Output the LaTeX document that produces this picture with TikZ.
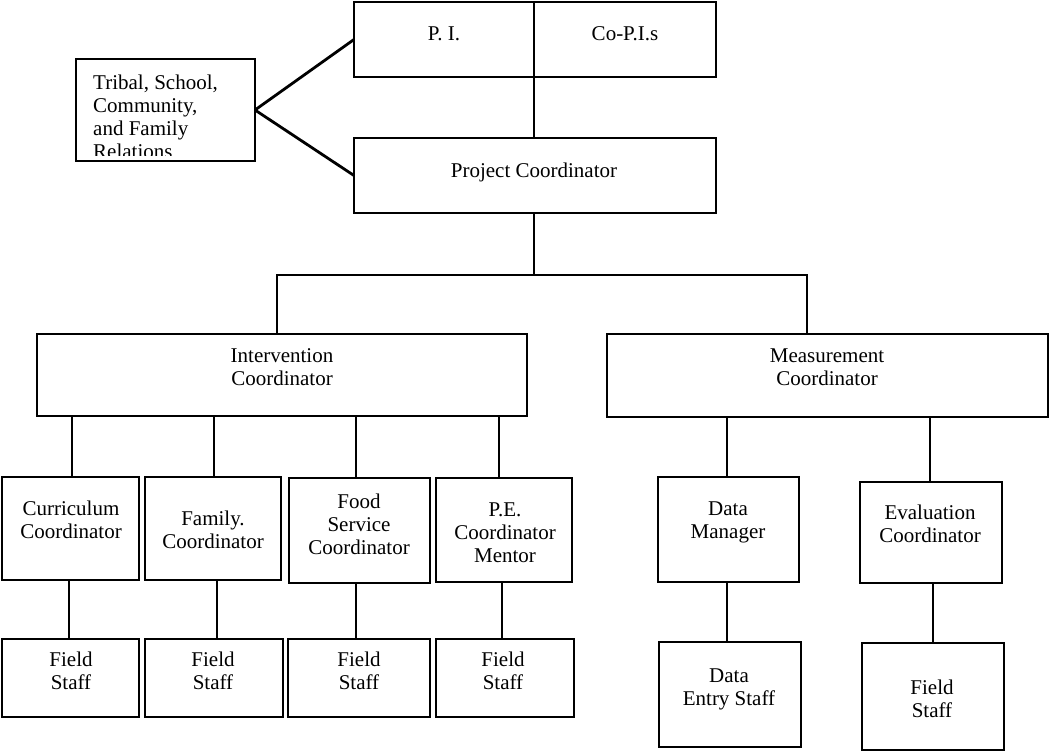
\documentclass[tikz,border=0pt]{standalone}
\usepackage{fontspec}
\setmainfont{Liberation Serif}
\newcommand\orgbox[5]{\node[box, minimum width={(#4-#2)*1pt}, minimum height={(#5-#3)*1pt}] (#1) at ({(#2+#4)/2},{(#3+#5)/2}) {};}
\newcommand\vlink[3]{\path ([xshift=#1]#2.north) coordinate (tmp#2); \draw[con] (tmp#2) -- (tmp#2 |- #3.south);}
\begin{document}
\begin{tikzpicture}[x=1pt,y=-1pt,
  box/.style={draw, line width=2pt, inner sep=0pt, outer sep=0pt},
  txt/.style={align=center, inner sep=0pt, font=\fontsize{21}{23}\selectfont},
  con/.style={line width=1.6pt},
  thick con/.style={line width=2.8pt}]
\useasboundingbox (0,0) rectangle (1050,752);
\fill[white] (0,0) rectangle (1050,752);

% boxes
\orgbox{tr}{76}{59}{255}{161}
\orgbox{pi}{354}{2}{534}{77}
\orgbox{cp}{534}{2}{716}{77}
\orgbox{pc}{354}{138}{716}{213}
\orgbox{ic}{37}{334}{527}{416}
\orgbox{mc}{607}{334}{1048}{417}
\orgbox{cc}{2}{477}{139}{580}
\orgbox{fc}{145}{477}{281}{580}
\orgbox{fsc}{289}{478}{430}{583}
\orgbox{pe}{436}{478}{572}{582}
\orgbox{fa}{2}{639}{139}{717}
\orgbox{fb}{145}{639}{283}{717}
\orgbox{fcc}{288}{639}{430}{717}
\orgbox{fd}{436}{639}{574}{717}
\orgbox{dm}{658}{477}{799}{582}
\orgbox{ev}{860}{482}{1002}{583}
\orgbox{de}{659}{642}{801}{747}
\orgbox{fe}{862}{643}{1004}{750}

% texts
\begin{scope}
\clip (76,59) rectangle (255,155);
\node[txt, align=left, anchor=north west] (tr-t) at (93,75) {Tribal, School,\\Community,\\and Family\\Relations};
\end{scope}
\node[txt] (pi-t) at (444,34) {P.\ I.};
\node[txt] (cp-t) at (625,34) {Co-P.I.s};
\node[txt] (pc-t) at (534,172) {Project Coordinator};
\node[txt] (ic-t) at (282,367) {Intervention\\Coordinator};
\node[txt] (mc-t) at (827,367) {Measurement\\Coordinator};
\node[txt] (cc-t) at (71,520) {Curriculum\\Coordinator};
\node[txt] (fc-t) at (213,530) {Family.\\Coordinator};
\node[txt] (fsc-t) at (359,524) {Food\\Service\\Coordinator};
\node[txt] (pe-t) at (505,533) {P.E.\\Coordinator\\Mentor};
\node[txt] (fa-t) at (71,671) {Field\\Staff};
\node[txt] (fb-t) at (213,671) {Field\\Staff};
\node[txt] (fcc-t) at (359,671) {Field\\Staff};
\node[txt] (fd-t) at (503,671) {Field\\Staff};
\node[txt] (dm-t) at (728,522) {Data\\Manager};
\node[txt] (ev-t) at (930,524) {Evaluation\\Coordinator};
\node[txt] (de-t) at (729,689) {Data\\Entry Staff};
\node[txt] (fe-t) at (932,699) {Field\\Staff};

% connectors
\draw[thick con] (tr.east) -- (pi.west);
\draw[thick con] (tr.east) -- (pc.west);
\draw[con] (pi.south east) -- (pi.south east |- pc.north);
\coordinate (bus) at (534,275);
\coordinate (busL) at (277,275);
\coordinate (busR) at (807,275);
\draw[con] (pc.south -| bus) -- (bus);
\draw[con] (busL |- ic.north) -- (busL) -- (busR) -- (busR |- mc.north);
\vlink{1.5pt}{cc}{ic}
\vlink{1pt}{fc}{ic}
\vlink{-3.5pt}{fsc}{ic}
\vlink{-5pt}{pe}{ic}
\vlink{-1.5pt}{fa}{cc}
\vlink{3pt}{fb}{fc}
\vlink{-3pt}{fcc}{fsc}
\vlink{-3pt}{fd}{pe}
\vlink{-1.5pt}{dm}{mc}
\vlink{-1pt}{ev}{mc}
\vlink{-3pt}{de}{dm}
\vlink{0pt}{fe}{ev}
\end{tikzpicture}
\end{document}
